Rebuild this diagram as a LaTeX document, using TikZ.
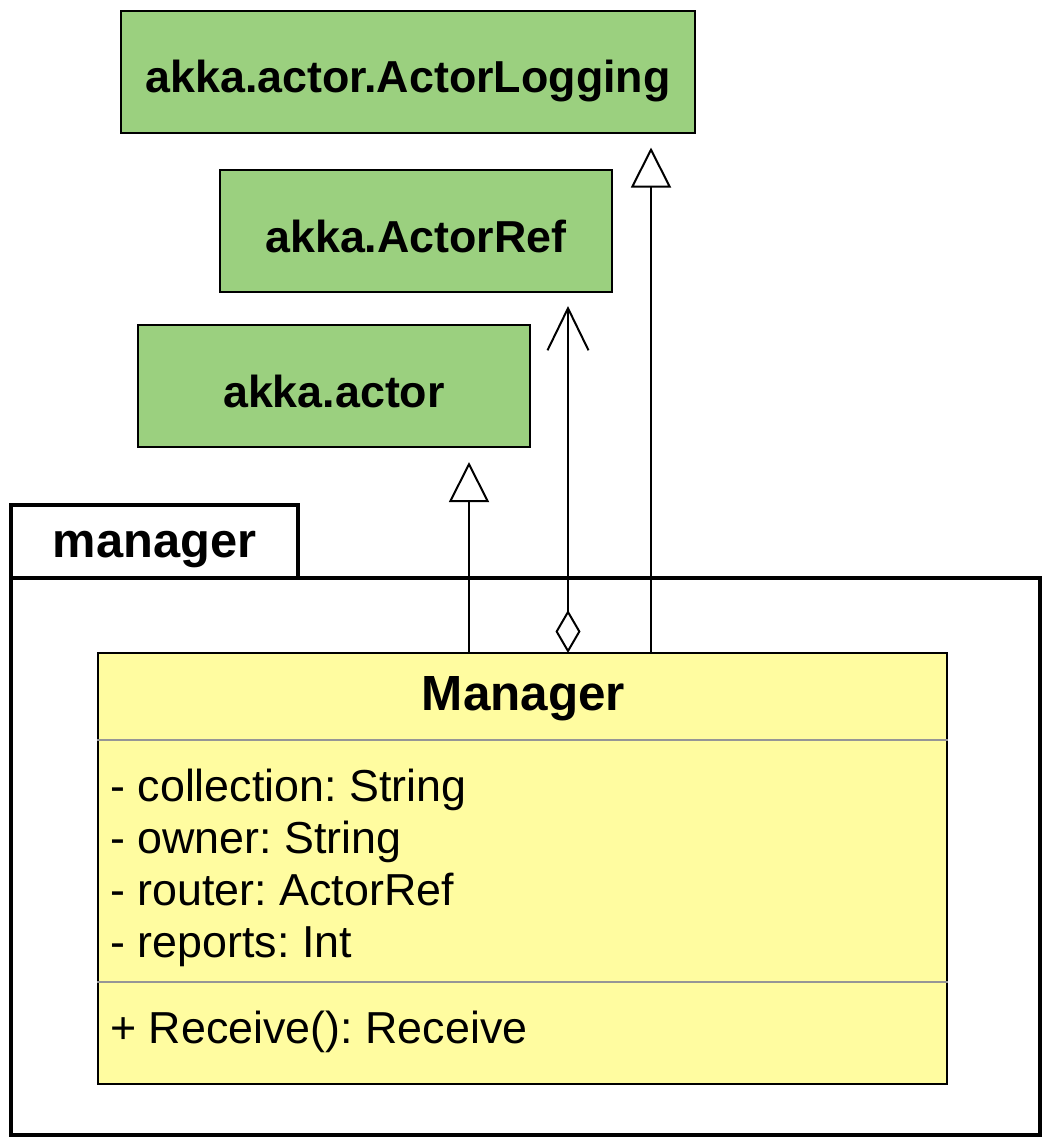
\documentclass[tikz,border=0pt]{standalone}
\usepackage{fontspec}
\setmainfont{Liberation Sans}
\usetikzlibrary{arrows.meta,positioning}
\definecolor{pkggreen}{RGB}{155,208,127}
\definecolor{classyellow}{RGB}{255,252,160}
\definecolor{sepgray}{RGB}{150,150,150}
\frenchspacing

\begin{document}
\begin{tikzpicture}[
  x=0.5pt, y=-0.5pt,
  extbox/.style={rectangle, draw, line width=1pt, fill=pkggreen, inner sep=0pt,
                 minimum width=196pt, minimum height=61pt,
                 text height=21.5pt, text depth=0.5pt,
                 font=\fontsize{22.4}{26}\selectfont\bfseries},
  pkgline/.style={draw, line width=2pt},
  classbox/.style={rectangle, draw, line width=1pt, fill=classyellow,
                   minimum width=424.5pt, minimum height=215.5pt},
  member/.style={anchor=base west, inner sep=0pt, font=\fontsize{22.4}{26}\selectfont},
  sepline/.style={line width=1pt, sepgray},
  realize/.style={-{Triangle[open, length=20pt, width=20pt]}, line width=1pt, shorten >=7pt},
  aggr/.style={{Diamond[open, length=21.5pt, width=12.5pt]}-{Straight Barb[length=21pt, width=20.5pt]},
               line width=1pt, shorten >=6.5pt},
]
\useasboundingbox (0,0) rectangle (1054,1148);

% External types
\node[extbox, minimum width=287pt] (logging) at (408,71.5) {akka.actor.ActorLogging};
\node[extbox] (actorref) at (416,231) {akka.ActorRef};
\node[extbox] (actor) at (334,386) {akka.actor};

% Package
\node[pkgline, rectangle, minimum width=514.5pt, minimum height=278.5pt] (pkg) at (525.5,856.5) {};
\node[pkgline, rectangle, minimum width=143.5pt, minimum height=36.5pt, inner sep=0pt,
      text height=16pt, text depth=0.5pt,
      font=\fontsize{24.4}{28}\selectfont\bfseries] (pkgtab) at (154.5,541.5) {manager\hspace{4pt}};

% Class
\node[classbox] (manager) at (522.5,868.5) {};
\node[anchor=base, inner sep=0pt, font=\fontsize{24.7}{28}\selectfont\bfseries] (mgrname) at (523.5,710) {Manager};
\coordinate (sepA) at (0,740);
\coordinate (sepB) at (0,982);
\draw[sepline] (manager.west |- sepA) -- (manager.east |- sepA);
\draw[sepline] (manager.west |- sepB) -- (manager.east |- sepB);
\node[member] (attrcoll) at (110,801) {- collection: String};
\node[member] (attrowner) at (110,853) {- owner: String};
\node[member] (attrrouter) at (110,905) {- router: ActorRef};
\node[member] (attrreports) at (110,957) {- reports: Int};
\node[member] (opreceive) at (110,1043) {+ Receive(): Receive};

% Arrows
\coordinate (fromA) at (469,653);
\coordinate (fromB) at (568,653);
\coordinate (fromC) at (651,653);
\draw[realize] (fromA) -- (fromA |- actor.south);
\draw[aggr] (fromB) -- (fromB |- actorref.south);
\draw[realize] (fromC) -- (fromC |- logging.south);

\end{tikzpicture}
\end{document}
